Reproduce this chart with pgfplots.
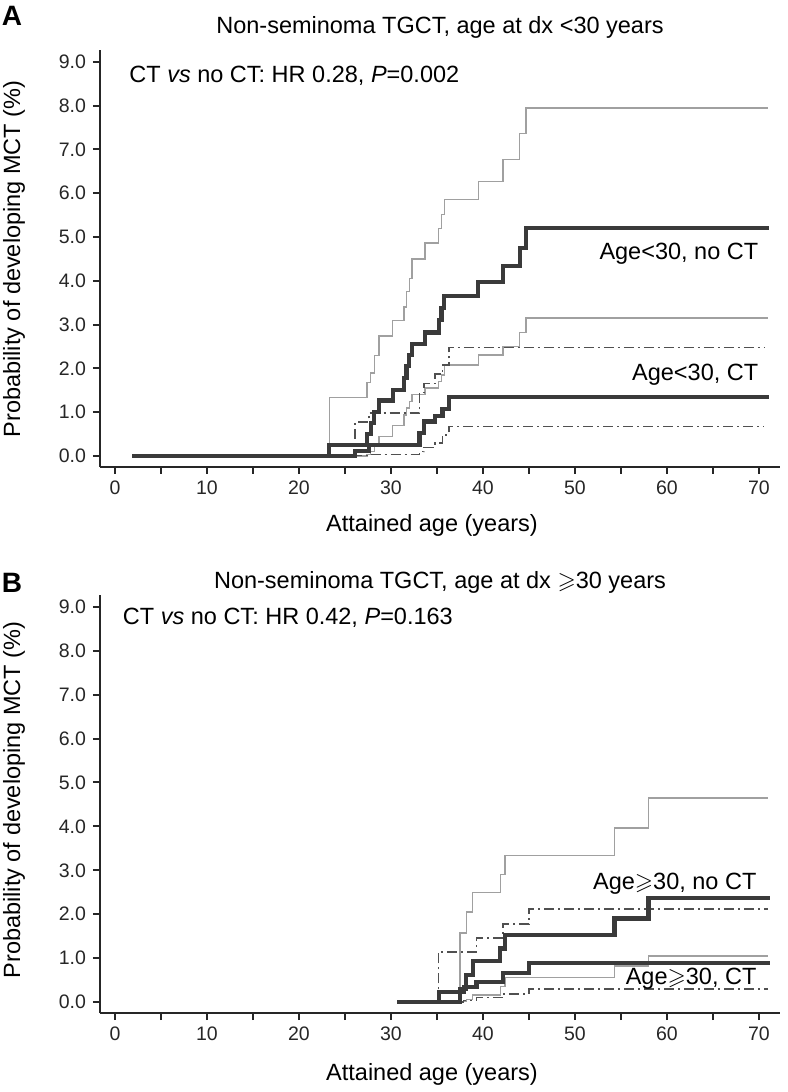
\documentclass[border=0pt]{standalone}
\usepackage{pgfplots}
\pgfplotsset{compat=1.18}
\usepackage{amssymb}
\usepackage{fontspec}
\setmainfont{Liberation Sans}
\definecolor{thk}{HTML}{3A3A3A}
\definecolor{thn}{HTML}{A0A0A0}
\definecolor{dd}{HTML}{505050}
\newcommand{\txt}{\fontsize{11.75}{14}\selectfont}
\pgfplotsset{
  kmaxis/.style={
    anchor=south west, scale only axis, width=340pt,
    xmin=-1.63, xmax=72.3, ymin=-0.25, ymax=9.27,
    axis x line=bottom, axis y line=left,
    axis line style={-, line width=1pt, black!85},
    xtick={0,10,...,70}, minor xtick={5,15,...,65},
    ytick={0,1,...,9},
    tick align=outside, major tick length=3.5pt, minor tick length=3.5pt,
    every tick/.style={line width=1pt, black!85},
    yticklabel style={/pgf/number format/.cd, fixed, fixed zerofill, precision=1},
    /pgf/number format/assume math mode=true,
    ticklabel style={font=\fontsize{9.75}{11}\selectfont, text=black!85},
    clip=false, no marks,
    every axis plot/.append style={const plot},
  },
  ci/.style={thn, line width=0.7pt},
  dci/.style={dd, line width=0.7pt, dash pattern=on 5pt off 2pt on 1pt off 2pt},
  est/.style={thk, line width=2.1pt},
}
\begin{document}
\begin{tikzpicture}
\useasboundingbox (0,0) rectangle (393.5pt,546pt);
% ---------- Panel A ----------
\begin{axis}[kmaxis, at={(50pt,312.5pt)}, height=208.5pt]
% no CT upper CI
\addplot[ci] coordinates {(1.9,0) (23.3,1.33) (27.4,1.68) (27.8,1.9) (28.2,2.3) (28.7,2.74) (30.2,3.1) (31.4,3.4) (31.7,3.75) (32.0,4.05) (32.3,4.5) (33.7,4.86) (35.2,5.2) (35.5,5.51) (35.8,5.86) (39.5,6.27) (42.2,6.77) (44.0,7.37) (44.7,7.95) (71.0,7.95)};
% no CT lower CI
\addplot[ci] coordinates {(1.9,0) (23.3,0) (27.4,0.03) (27.8,0.1) (28.2,0.25) (28.7,0.45) (30.2,0.7) (31.4,0.94) (31.7,1.1) (32.0,1.25) (32.3,1.4) (33.7,1.55) (35.2,1.7) (35.5,1.85) (35.8,2.08) (39.5,2.31) (42.2,2.5) (44.0,2.82) (44.7,3.15) (71.0,3.15)};
% CT upper CI
\addplot[dci] coordinates {(1.9,0) (26.1,0.78) (27.6,0.98) (33.1,1.45) (33.6,1.66) (34.8,1.87) (35.6,2.08) (36.3,2.48) (70.6,2.48)};
% CT lower CI
\addplot[dci] coordinates {(1.9,0) (26.1,0.01) (27.6,0.04) (33.1,0.1) (33.6,0.2) (34.8,0.3) (35.6,0.48) (36.3,0.67) (70.6,0.67)};
% CT estimate
\addplot[est] coordinates {(1.9,0) (26.1,0.12) (27.6,0.26) (33.1,0.52) (33.6,0.79) (34.8,0.92) (35.6,1.07) (36.3,1.34) (71.1,1.34)};
% no CT estimate
\addplot[est] coordinates {(1.9,0) (23.3,0.25) (27.4,0.5) (27.8,0.75) (28.2,1.0) (28.7,1.27) (30.2,1.51) (31.4,1.78) (31.7,2.05) (32.0,2.3) (32.3,2.56) (33.7,2.82) (35.2,3.1) (35.5,3.38) (35.8,3.65) (39.5,3.97) (42.2,4.33) (44.0,4.75) (44.7,5.2) (71.1,5.2)};
\node[anchor=west, font=\txt] at (axis cs:0.8,8.68) {CT \textit{vs} no CT: HR 0.28, \textit{P}=0.002};
\node[anchor=east, font=\txt] at (axis cs:70.7,4.62) {Age<30, no CT};
\node[anchor=east, font=\txt] at (axis cs:70.7,1.85) {Age<30, CT};
\end{axis}
% ---------- Panel B ----------
\begin{axis}[kmaxis, at={(50pt,39.5pt)}, height=209pt]
\addplot[ci] coordinates {(30.7,0) (37.5,1.57) (38.2,2.05) (38.9,2.5) (41.9,2.9) (42.4,3.34) (54.3,3.96) (58.0,4.65) (71.0,4.65)};
\addplot[ci] coordinates {(30.7,0) (37.5,0.01) (38.2,0.06) (38.9,0.16) (41.9,0.35) (42.4,0.56) (54.3,0.82) (58.0,1.05) (71.0,1.05)};
\addplot[dci] coordinates {(30.7,0) (35.2,1.14) (39.3,1.46) (42.2,1.78) (45.0,2.12) (71.0,2.12)};
\addplot[dci] coordinates {(30.7,0) (37.9,0.03) (39.3,0.1) (42.2,0.18) (45.0,0.3) (71.0,0.3)};
\addplot[est] coordinates {(30.7,0) (35.2,0.22) (37.9,0.34) (39.3,0.45) (42.2,0.66) (45.0,0.88) (71.2,0.88)};
\addplot[est] coordinates {(30.7,0) (37.5,0.3) (38.2,0.62) (38.9,0.93) (41.9,1.22) (42.4,1.52) (54.3,1.9) (58.0,2.37) (71.2,2.37)};
\node[anchor=west, font=\txt] at (axis cs:0.1,8.75) {CT \textit{vs} no CT: HR 0.42, \textit{P}=0.163};
\node[anchor=east, font=\txt] at (axis cs:70.5,2.69) {Age$\geqslant$30, no CT};
\node[anchor=east, font=\txt] at (axis cs:70.5,0.54) {Age$\geqslant$30, CT};
\end{axis}
% ---------- Titles and labels ----------
\node[font=\txt] at (220pt,532.5pt) {Non-seminoma TGCT, age at dx <30 years};
\node[font=\txt] at (220pt,255pt) {Non-seminoma TGCT, age at dx $\geqslant$30 years};
\node[font=\fontsize{14}{16}\selectfont\bfseries] at (6pt,538pt) {A};
\node[font=\fontsize{14}{16}\selectfont\bfseries] at (6pt,254.5pt) {B};
\node[font=\txt, rotate=90] at (7pt,416.5pt) {Probability of developing MCT (\%)};
\node[font=\txt, rotate=90] at (7pt,146pt) {Probability of developing MCT (\%)};
\node[font=\txt] at (216pt,283.5pt) {Attained age (years)};
\node[font=\txt] at (216pt,9pt) {Attained age (years)};
\end{tikzpicture}
\end{document}
